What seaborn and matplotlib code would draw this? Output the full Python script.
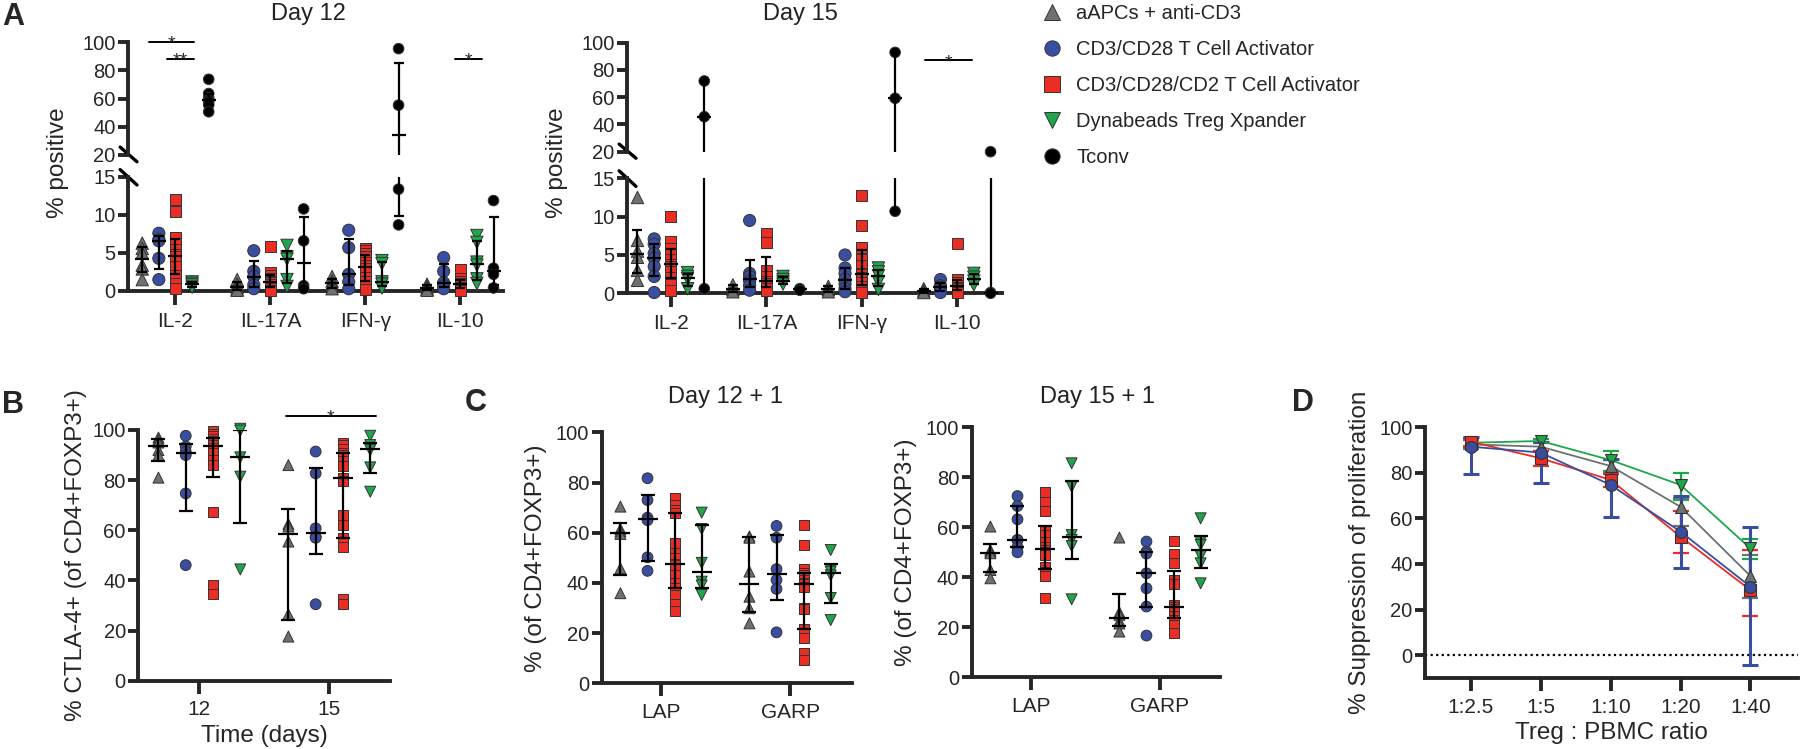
import numpy as np
import pandas as pd
import matplotlib.pyplot as plt
from matplotlib.lines import Line2D
import seaborn as sns

# groups / styling
groups = ['aAPCs + anti-CD3', 'CD3/CD28 T Cell Activator', 'CD3/CD28/CD2 T Cell Activator',
          'Dynabeads Treg Xpander', 'Tconv']
colors = ['#6c7174', '#3a4ea1', '#ec2d24', '#1fa64b', '#000000']
markers = ['^', 'o', 's', 'v', 'o']

# panel A: % positive, order IL-2, IL-17A, IFN-γ, IL-10
cytokines = ['IL-2', 'IL-17A', 'IFN-γ', 'IL-10']
a12_aapc = [[6.3, 5.6, 5.0, 3.4, 2.9, 1.5], [1.5, 0.9, 0.5, 0.2, 0.1], [1.9, 1.3, 1.0, 0.6, 0.3], [0.9, 0.6, 0.4, 0.2, 0.1]]
a12_cd28 = [[7.6, 6.8, 6.6, 4.3, 1.5], [5.3, 2.6, 1.9, 0.8, 0.3], [8.0, 5.7, 2.2, 1.2, 0.3], [4.4, 2.6, 1.1, 0.7, 0.3]]
a12_cd2 = [[12.0, 10.4, 7.0, 6.2, 5.5, 4.8, 4.5, 4.0, 3.2, 2.0, 1.0, 0.3],
           [5.9, 2.5, 2.0, 1.6, 1.3, 1.1, 0.9, 0.6, 0.3, 0.1],
           [5.6, 5.3, 4.9, 4.5, 3.8, 3.4, 3.0, 2.4, 1.8, 1.2, 0.6, 0.2],
           [2.8, 1.6, 1.2, 1.0, 0.9, 0.7, 0.5, 0.3, 0.1]]
a12_dyna = [[1.2, 1.0, 0.8, 0.5], [6.0, 4.5, 4.2, 1.5, 0.6], [4.0, 3.6, 1.2, 0.9, 0.4], [7.3, 6.4, 3.8, 3.4, 1.6, 1.0]]
a12_tconv = [[73.6, 63.5, 60.5, 59.0, 57.5, 55.5, 50.6], [10.8, 6.6, 0.7, 0.3], [95.3, 55.3, 13.4, 8.7], [11.9, 3.0, 2.2, 0.4]]

a15_aapc = [[12.5, 6.9, 5.5, 4.7, 3.0, 1.7], [1.1, 0.5, 0.2], [0.9, 0.5, 0.2], [0.6, 0.3, 0.1]]
a15_cd28 = [[7.1, 6.4, 5.2, 4.6, 3.5, 2.2, 0.1], [9.5, 2.6, 2.2, 1.6, 1.0, 0.4], [5.0, 3.3, 2.6, 1.8, 1.2, 0.6, 0.2], [1.8, 1.0, 0.8, 0.4, 0.1]]
a15_cd2 = [[10.0, 6.8, 5.8, 5.0, 4.4, 3.8, 3.5, 2.8, 2.0, 1.2, 0.4],
           [7.8, 6.6, 3.0, 2.2, 1.6, 1.3, 1.0, 0.6, 0.3],
           [12.8, 8.8, 6.0, 4.4, 3.6, 2.6, 2.4, 2.0, 1.4, 0.9, 0.4, 0.1],
           [6.5, 1.8, 1.4, 1.0, 0.8, 0.6, 0.3, 0.1]]
a15_dyna = [[2.7, 2.2, 1.9, 0.6], [2.2, 1.8, 1.5, 1.2], [3.3, 2.8, 2.3, 1.5, 0.5], [2.6, 2.1, 1.6, 1.1]]
a15_tconv = [[71.9, 45.7, 0.6], [0.6, 0.4], [92.9, 59.2, 10.7], [20.0, 0.1, 0.0]]

# panel B: % CTLA-4+, days 12 and 15
days = ['12', '15']
b_aapc = [[97, 96, 95, 92, 90, 81], [86, 62.5, 61.5, 55.5, 26.5, 17.6]]
b_cd28 = [[97.7, 93.4, 91.4, 90.0, 74.7, 46.1], [91.4, 82.7, 60.8, 57.4, 57.0, 30.5]]
b_cd2 = [[99.5, 98.5, 97.5, 96.5, 95.5, 95, 94, 93, 91, 88, 86, 67.4, 38.2, 34.6],
         [95, 94, 92.5, 91, 90, 87.5, 85.5, 81, 79.5, 66, 62, 57, 53.5, 32.5, 30.5]]
b_dyna = [[100.5, 99.8, 89.1, 81.4, 44.4], [97.7, 94, 92.8, 92, 85.1, 75.4]]

# panel C: LAP / GARP
markers_c = ['LAP', 'GARP']
c12_aapc = [[70.4, 61.5, 60.5, 59.5, 45.8, 35.9], [58.5, 58, 44.5, 34.5, 29.9, 23.9]]
c12_cd28 = [[81.7, 73, 66, 65, 50.2, 44.8], [62.7, 58, 45.5, 41.2, 37.6, 20.3]]
c12_cd2 = [[74, 71, 69, 68, 56, 52, 50, 47.5, 47, 43, 40, 38, 35, 31.5, 29],
           [63.1, 55.1, 45.5, 44, 43, 41, 40, 39.5, 38.5, 30.1, 29.5, 21.5, 17.9, 12.2, 9.3]]
c12_dyna = [[68, 61.5, 48, 40.5, 39, 35.2], [53.1, 45.5, 44.5, 43, 34, 25.2]]
c15_aapc = [[60.3, 50.8, 50.2, 49.6, 42.9, 39.6], [55.9, 26, 25, 22.5, 21.5, 18.3]]
c15_cd28 = [[72.5, 68.5, 63.2, 55, 54.8, 52, 50], [54.3, 50.3, 49.5, 41.6, 35.6, 28.3, 16.7]]
c15_cd2 = [[74, 70, 66.5, 58.5, 57, 54, 52, 51, 50, 49, 44, 42, 40.5, 31.6],
           [54.7, 49.3, 45.9, 39, 37.5, 29, 28, 27.5, 26, 24.5, 23, 21, 17.6]]
c15_dyna = [[85.6, 76.3, 56.9, 55, 52.5, 31.2], [63.6, 54.3, 53, 48.5, 45.6, 37.6]]

# panel D: suppression, mean with error range
ratios = ['1:2.5', '1:5', '1:10', '1:20', '1:40']
d_aapc = [92.5, 91.5, 83.0, 65.1, 34.7]
d_aapc_lo = [90.5, 89.5, 80.5, 56.8, 24.9]
d_aapc_hi = [94.5, 93.5, 85.5, 69.0, 44.0]
d_cd28 = [91.5, 88.9, 74.7, 54.2, 30.0]
d_cd28_lo = [79.5, 75.4, 60.7, 38.1, -4.4]
d_cd28_hi = [95.9, 93.5, 86.0, 70.0, 56.3]
d_cd2 = [93.7, 86.4, 76.9, 52.0, 28.5]
d_cd2_lo = [91.5, 83.0, 74.0, 44.7, 17.1]
d_cd2_hi = [95.5, 89.5, 79.5, 63.2, 46.1]
d_dyna = [93.2, 94.0, 85.6, 74.7, 46.8]
d_dyna_lo = [92.0, 93.0, 81.0, 68.0, 42.0]
d_dyna_hi = [94.5, 95.0, 89.6, 79.8, 50.8]

sns.set_style('ticks')
plt.rcParams['font.family'] = ['Liberation Sans', 'DejaVu Sans']
plt.rcParams['axes.linewidth'] = 2.8

W, H = 1800, 749
fig = plt.figure(figsize=(W / 100, H / 100), dpi=100)

pal = dict(zip(groups, colors))
mk = dict(zip(groups, markers))


def px_axes(l, t, r, b):
    return fig.add_axes([l / W, 1 - b / H, (r - l) / W, (b - t) / H])


def long_df(series, step, center):
    rows = []
    for g, per_cat in enumerate(series):
        for c, vals in enumerate(per_cat):
            for v in vals:
                rows.append((groups[g], g, c, c + (g - center) * step, v))
    return pd.DataFrame(rows, columns=['group', 'gi', 'cat', 'x', 'value'])


def draw_points(ax, df, sizes):
    sns.scatterplot(data=df, x='x', y='value', hue='group', style='group', size='group',
                    palette=pal, markers=mk, sizes=dict(zip(groups, sizes)),
                    edgecolor='#333333', linewidth=0.7, legend=False, ax=ax,
                    clip_on=False, zorder=3)


def draw_stats(ax, df, cap, medw, lw=1.6):
    for (gi, c), sub in df.groupby(['gi', 'cat']):
        v = sub['value'].to_numpy()
        q1, med, q3 = np.percentile(v, [25, 50, 75], method='weibull')
        x = sub['x'].iloc[0]
        ax.errorbar(x, med, yerr=[[med - q1], [q3 - med]], fmt='none', ecolor='black',
                    elinewidth=lw, capsize=cap, capthick=lw, zorder=4)
        ax.plot(x, med, marker='_', ms=medw, mew=lw, color='black', zorder=4)


def style_ticks(ax):
    ax.tick_params(axis='both', direction='out', length=7, width=2.8, labelsize=14.5, pad=2)
    ax.tick_params(axis='x', labelsize=15)
    ax.set_xlabel('')
    ax.set_ylabel('')


def sig_bar(ax, cat, g0, g1, y, txt, step, center, clip=True):
    x0 = cat + (g0 - center) * step
    x1 = cat + (g1 - center) * step
    ax.plot([x0, x1], [y, y], color='black', lw=1.4, clip_on=clip)
    ax.annotate(txt, xy=((x0 + x1) / 2, y), xytext=(0, -5), textcoords='offset points',
                ha='center', va='baseline', fontsize=14, annotation_clip=False)


# ---------------- Panel A ----------------
stepA = 0.175
for series, box_top, box_bot, xlim, title, tx, sigs in [
    ([a12_aapc, a12_cd28, a12_cd2, a12_dyna, a12_tconv], (128, 42, 503, 155), (128, 177, 503, 291),
     (-0.5, 3.45), 'Day 12', 308, [(0, 0.4, 3.1, 100, '*'), (0, 1.5, 3.1, 88, '**'), (3, 1.7, 3.3, 88, '*')]),
    ([a15_aapc, a15_cd28, a15_cd2, a15_dyna, a15_tconv], (627, 42.7, 1002, 151.7), (627, 178.3, 1002, 293.3),
     (-0.46, 3.47), 'Day 15', 800, [(3, 0.1, 2.9, 87, '*')]),
]:
    df = long_df(series, stepA, 2)
    ax_t = px_axes(*box_top)
    ax_b = px_axes(*box_bot)
    draw_points(ax_t, df[df['value'] >= 17], [80, 76, 62, 80, 58])
    draw_points(ax_b, df[df['value'] <= 16], [80, 76, 62, 80, 58])
    for ax in (ax_t, ax_b):
        draw_stats(ax, df, cap=3.6, medw=9.5)
        ax.set_xlim(*xlim)
        style_ticks(ax)
        sns.despine(ax=ax)
    ax_t.set_ylim(20, 100)
    ax_t.set_yticks([20, 40, 60, 80, 100])
    ax_t.spines['bottom'].set_visible(False)
    ax_t.set_xticks([])
    ax_b.set_ylim(0, 15)
    ax_b.set_yticks([0, 5, 10, 15])
    ax_b.set_xticks(range(len(cytokines)))
    ax_b.set_xticklabels(cytokines)
    ax_b.tick_params(axis='x', length=10, pad=5)
    # axis break marks
    kw = dict(color='black', lw=2.4, clip_on=False)
    ax_t.plot([-0.021, 0.024], [0.07, -0.06], transform=ax_t.transAxes, **kw)
    ax_b.plot([-0.021, 0.024], [1.065, 0.93], transform=ax_b.transAxes, **kw)
    for cat, g0, g1, y, txt in sigs:
        sig_bar(ax_t, cat, g0, g1, y, txt, stepA, 2, clip=False)
    fig.text(tx / W, 1 - 14 / H, title, ha='center', va='center', fontsize=17, color='#222222')
    fig.text((box_top[0] - 70) / W, 1 - 163 / H, '% positive', rotation=90,
             ha='center', va='center', fontsize=17.5)

fig.text(2 / W, 1 - 2 / H, 'A', fontsize=22, fontweight='bold', ha='left', va='top')

# legend
handles = [Line2D([], [], ls='none', marker=m, color=c, markeredgecolor='#333333',
                  markeredgewidth=0.7, ms=11) for m, c in zip(markers, colors)]
fig.legend(handles, groups, loc='upper left', bbox_to_anchor=(1042 / W, 1 - 4 / H), frameon=False,
           fontsize=14.5, labelspacing=0.84, handletextpad=0.7, handlelength=1.0,
           borderaxespad=0, borderpad=0)

# ---------------- Panel B ----------------
stepBC = 0.21
dfB = long_df([b_aapc, b_cd28, b_cd2, b_dyna], stepBC, 1.5)
axB = px_axes(138.3, 430, 390, 680.7)
draw_points(axB, dfB, [62, 60, 52, 62, 0])
draw_stats(axB, dfB, cap=5.0, medw=14)
axB.set_xlim(-0.47, 1.467)
axB.set_ylim(0, 100)
style_ticks(axB)
sns.despine(ax=axB)
axB.set_xticks(range(len(days)))
axB.set_xticklabels(days)
axB.tick_params(axis='x', length=9, pad=5)
axB.set_xlabel('Time (days)', fontsize=17.5, labelpad=4)
axB.set_ylabel('% CTLA-4+ (of CD4+FOXP3+)', fontsize=17.5, labelpad=4)
sig_bar(axB, 1, -0.1, 3.2, 105.7, '*', stepBC, 1.5, clip=False)
fig.text(2 / W, 1 - 390 / H, 'B', fontsize=22, fontweight='bold', ha='left', va='top')

# ---------------- Panel C ----------------
for series, box, xlim, title, tx in [
    ([c12_aapc, c12_cd28, c12_cd2, c12_dyna], (601.7, 432.3, 852, 683.3), (-0.46, 1.48), 'Day 12 + 1', 725),
    ([c15_aapc, c15_cd28, c15_cd2, c15_dyna], (971.7, 427.3, 1220, 677.3), (-0.46, 1.465), 'Day 15 + 1', 1097),
]:
    dfC = long_df(series, stepBC, 1.5)
    ax = px_axes(*box)
    draw_points(ax, dfC, [62, 60, 52, 62, 0])
    draw_stats(ax, dfC, cap=5.0, medw=14)
    ax.set_xlim(*xlim)
    ax.set_ylim(0, 100)
    style_ticks(ax)
    sns.despine(ax=ax)
    ax.set_xticks(range(len(markers_c)))
    ax.set_xticklabels(markers_c)
    ax.tick_params(axis='x', length=9, pad=5)
    ax.set_ylabel('% (of CD4+FOXP3+)', fontsize=17.5, labelpad=6)
    fig.text(tx / W, 1 - 397 / H, title, ha='center', va='center', fontsize=17, color='#222222')
fig.text(465 / W, 1 - 388 / H, 'C', fontsize=22, fontweight='bold', ha='left', va='top')

# ---------------- Panel D ----------------
axD = px_axes(1425, 427.3, 1798, 678.3)
d_means = [d_aapc, d_cd28, d_cd2, d_dyna]
d_los = [d_aapc_lo, d_cd28_lo, d_cd2_lo, d_dyna_lo]
d_his = [d_aapc_hi, d_cd28_hi, d_cd2_hi, d_dyna_hi]
rowsD = []
for g, vals in enumerate(d_means):
    for i, v in enumerate(vals):
        rowsD.append((groups[g], i, v, d_los[g][i], d_his[g][i]))
dfD = pd.DataFrame(rowsD, columns=['group', 'xi', 'mean', 'lo', 'hi'])
axD.axhline(0, color='black', ls=(0, (1, 1.5)), lw=1.6, zorder=1)
# draw order: green, gray, red, blue (blue on top)
for k, g in enumerate([3, 0, 2, 1]):
    sub = dfD[dfD['group'] == groups[g]]
    lw = 2.2 if g == 1 else 1.6
    axD.errorbar(sub['xi'], sub['mean'], yerr=[sub['mean'] - sub['lo'], sub['hi'] - sub['mean']],
                 fmt='none', ecolor=colors[g], elinewidth=lw, capsize=5.5, capthick=lw, zorder=2 + k * 0.1)
    sns.lineplot(data=sub, x='xi', y='mean', color=colors[g], marker=markers[g], ms=8.5,
                 markeredgecolor='#333333', markeredgewidth=0.8, lw=1.3, errorbar=None,
                 ax=axD, zorder=3 + k * 0.1, clip_on=False)
axD.set_xlim(-0.654, 4.68)
axD.set_ylim(-10.2, 100)
style_ticks(axD)
sns.despine(ax=axD)
axD.set_yticks([0, 20, 40, 60, 80, 100])
axD.set_xticks(range(len(ratios)))
axD.set_xticklabels(ratios)
axD.tick_params(axis='x', length=9, pad=5)
axD.set_xlabel('Treg : PBMC ratio', fontsize=17.5, labelpad=4)
axD.set_ylabel('% Suppression of proliferation', fontsize=17.5, labelpad=6)
fig.text(1292 / W, 1 - 388 / H, 'D', fontsize=22, fontweight='bold', ha='left', va='top')

fig.savefig('out.png', dpi=100)
